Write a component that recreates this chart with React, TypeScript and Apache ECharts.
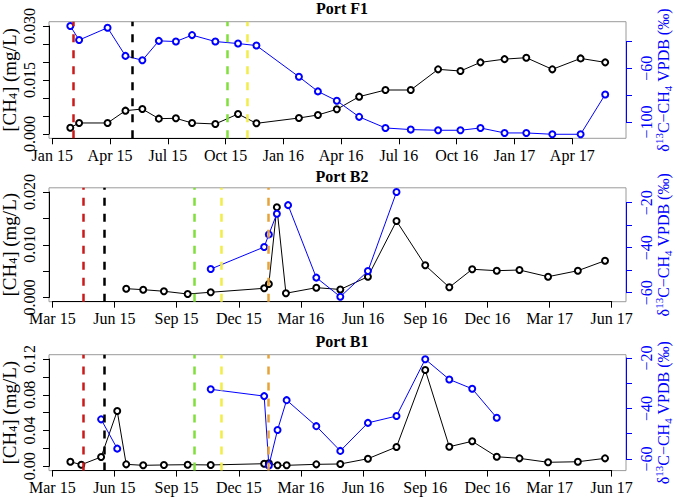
import React, { useEffect, useRef } from 'react';
import * as echarts from 'echarts';

const W = 677;
const H = 497;
const FONT = 'Liberation Serif, Times New Roman, serif';
const BLUE = '#0000FF';
const MONTHS = ['Jan', 'Feb', 'Mar', 'Apr', 'May', 'Jun', 'Jul', 'Aug', 'Sep', 'Oct', 'Nov', 'Dec'];

// ---------- Port F1 ----------
const f1Dates = ['2015-01-30', '2015-02-12', '2015-03-28', '2015-04-25', '2015-05-22', '2015-06-17', '2015-07-14', '2015-08-09', '2015-09-15', '2015-10-21', '2015-11-19', '2016-01-26', '2016-02-24', '2016-03-25', '2016-04-29', '2016-06-10', '2016-07-20', '2016-09-02', '2016-10-07', '2016-11-08', '2016-12-16', '2017-01-20', '2017-02-28', '2017-04-14', '2017-05-23'];
const f1CH4 = [0.00175, 0.00306, 0.00306, 0.00648, 0.00694, 0.00426, 0.00435, 0.00306, 0.00278, 0.00556, 0.00296, 0.00444, 0.00528, 0.00685, 0.01037, 0.01222, 0.01222, 0.01796, 0.0175, 0.0199, 0.0208, 0.0212, 0.01796, 0.021, 0.0199];
const f1D13Dates = f1Dates;
const f1D13 = [-28.4, -38.9, -29.7, -50.7, -54.0, -39.5, -40, -35.2, -40, -41.5, -43, -66.3, -77.2, -84.2, -96.2, -104.5, -105.7, -106.2, -106.2, -104.5, -108.2, -108.2, -109.2, -109.2, -79.5];
const f1Events = ['2015-02-04', '2015-05-06', '2015-10-03', '2015-11-04'];

// ---------- Port B2 ----------
const b2Dates = ['2015-06-18', '2015-07-13', '2015-08-13', '2015-09-17', '2015-10-21', '2016-01-08', '2016-01-15', '2016-01-27', '2016-02-09', '2016-03-24', '2016-04-28', '2016-06-08', '2016-07-20', '2016-09-01', '2016-10-06', '2016-11-09', '2016-12-15', '2017-01-18', '2017-02-27', '2017-04-12', '2017-05-22'];
const b2CH4 = [0.00167, 0.00148, 0.00118, 0.00066, 0.00099, 0.00174, 0.00256, 0.0171, 0.0008, 0.00186, 0.00152, 0.00394, 0.0145, 0.0061, 0.00193, 0.00535, 0.00508, 0.00521, 0.00394, 0.00508, 0.00698];
const b2D13Dates = ['2015-10-21', '2016-01-08', '2016-01-15', '2016-01-27', '2016-02-09', '2016-02-12', '2016-03-24', '2016-04-28', '2016-06-08', '2016-07-20'];
const b2D13 = [-49.5, -39.7, -34.1, -24.9, null, -21.1, -53.3, -61.8, -50.4, -15.3];
const b2Events = ['2015-04-15', '2015-05-17', '2015-09-26', '2015-11-06', '2016-01-14'];

// ---------- Port B1 ----------
const b1Dates = ['2015-03-28', '2015-04-13', '2015-05-12', '2015-06-05', '2015-06-18', '2015-07-13', '2015-08-13', '2015-09-17', '2015-10-21', '2016-01-08', '2016-01-15', '2016-01-28', '2016-02-10', '2016-03-24', '2016-04-28', '2016-06-08', '2016-07-20', '2016-09-01', '2016-10-06', '2016-11-09', '2016-12-15', '2017-01-18', '2017-02-27', '2017-04-12', '2017-05-22'];
const b1CH4 = [0.0051, 0.0018, 0.0104, 0.0618, 0.0022, 0.0011, 0.0015, 0.0018, 0.0015, 0.0029, 0.0034, 0.0011, 0.0011, 0.0022, 0.0026, 0.0085, 0.0216, 0.1077, 0.0219, 0.028, 0.0107, 0.0089, 0.0045, 0.0051, 0.0089];
const b1D13Dates = ['2015-05-12', '2015-06-05', '2015-06-18', '2015-10-21', '2016-01-08', '2016-01-15', '2016-01-28', '2016-02-10', '2016-03-24', '2016-04-28', '2016-06-08', '2016-07-20', '2016-09-01', '2016-10-06', '2016-11-09', '2016-12-15'];
const b1D13 = [-44.3, -55.9, null, -32.4, -35.1, -62.6, -48.5, -36.7, -47, -56.8, -45.7, -43, -20.5, -28.5, -32.2, -43.7];
const b1Events = b2Events;

const EVENT_COLORS = ['#CC1A1A', '#000000', '#7FE03A', '#F2EE45', '#E8A23A'];

// tick definitions
const xTicks = [0, 27, 3];
const f1LeftTicks = [0, 0.03, 0.005];
const f1LeftLabels = [0, 0.015, 0.03];
const f1RightTicks = [-100, -40, 20];
const f1RightLabels = [-100, -60];
const b2LeftTicks = [0, 0.02, 0.005];
const b2LeftLabels = [0, 0.01, 0.02];
const b2RightTicks = [-60, -20, 10];
const b2RightLabels = [-60, -40, -20];
const b1LeftTicks = [0, 0.12, 0.02];
const b1LeftLabels = [0, 0.04, 0.08, 0.12];
const b1RightTicks = [-60, -20, 10];
const b1RightLabels = [-60, -40, -20];

const PANELS = [
  {
    title: 'Port F1', titleY: 8.5, base: 0,
    box: { left: 49, right: 626, top: 21.7, bottom: 138.3 },
    xRange: [-0.17, 29.79],
    yL: [-0.0012, 0.0312], yLT: f1LeftTicks, yLLab: f1LeftLabels, yLDig: 3,
    yR: [-112.2, -25.2], yRT: f1RightTicks, yRLab: f1RightLabels,
    dates: f1Dates, ch4: f1CH4, dDates: f1D13Dates, d13: f1D13, events: f1Events,
  },
  {
    title: 'Port B2', titleY: 176, base: 2,
    box: { left: 49, right: 626, top: 187.8, bottom: 301.7 },
    xRange: [-0.16, 27.69],
    yL: [-0.0008, 0.0208], yLT: b2LeftTicks, yLLab: b2LeftLabels, yLDig: 3,
    yR: [-64.0, -13.4], yRT: b2RightTicks, yRLab: b2RightLabels,
    dates: b2Dates, ch4: b2CH4, dDates: b2D13Dates, d13: b2D13, events: b2Events,
  },
  {
    title: 'Port B1', titleY: 341.5, base: 2,
    box: { left: 49, right: 626, top: 354.7, bottom: 470.6 },
    xRange: [-0.16, 27.69],
    yL: [-0.0048, 0.1248], yLT: b1LeftTicks, yLLab: b1LeftLabels, yLDig: 2,
    yR: [-64.6, -18.7], yRT: b1RightTicks, yRLab: b1RightLabels,
    dates: b1Dates, ch4: b1CH4, dDates: b1D13Dates, d13: b1D13, events: b1Events,
  },
];

function toM(s: string, base: number): number {
  const [y, mo, d] = s.split('-').map(Number);
  const dim = new Date(Date.UTC(y, mo, 0)).getUTCDate();
  return (y - 2015) * 12 + (mo - 1) + (d - 1) / dim - base;
}

function monthLabel(v: number, base: number): string {
  const m = Math.round(v + base);
  const yr = 15 + Math.floor(m / 12);
  return `${MONTHS[((m % 12) + 12) % 12]} ${yr}`;
}

function has(list: number[], v: number) {
  return list.some((x) => Math.abs(x - v) < 1e-9);
}

const richLabel = (color: string) => ({ t: { fontFamily: FONT, fontSize: 16, color, lineHeight: 18 } });

function buildOption() {
  const grid: any[] = [];
  const xAxis: any[] = [];
  const yAxis: any[] = [];
  const series: any[] = [];
  const graphic: any[] = [];
  const GRID_FIX = { containLabel: false, outerBoundsMode: 'none' };

  PANELS.forEach((p) => {
    const b = p.box;
    const bw = b.right - b.left;
    const bh = b.bottom - b.top;
    const xPx = (v: number) => b.left + ((v - p.xRange[0]) / (p.xRange[1] - p.xRange[0])) * bw;
    const yPx = (v: number, r: number[]) => b.top + ((r[1] - v) / (r[1] - r[0])) * bh;

    // ---- data grid (the box) ----
    const gD = grid.length;
    grid.push({ ...GRID_FIX, left: b.left, top: b.top, width: bw, height: bh, show: true, borderColor: '#9a9a9a', borderWidth: 1, backgroundColor: 'transparent' });
    const xD = xAxis.length;
    xAxis.push({ gridIndex: gD, type: 'value', min: p.xRange[0], max: p.xRange[1], show: false });
    const yDL = yAxis.length;
    yAxis.push({
      gridIndex: gD, type: 'value', min: p.yL[0], max: p.yL[1], position: 'left',
      axisLine: { show: false }, axisTick: { show: false }, axisLabel: { show: false }, splitLine: { show: false },
      name: '{a|[CH}{s|4}{a|] (mg/L)}', nameLocation: 'middle', nameGap: 30, nameRotate: 90,
      nameTextStyle: {
        color: '#000', fontFamily: FONT, fontSize: 19,
        rich: {
          a: { fontFamily: FONT, fontSize: 19, color: '#000', lineHeight: 20 },
          s: { fontFamily: FONT, fontSize: 12, color: '#000', lineHeight: 12, verticalAlign: 'bottom' },
        },
      },
    });
    const yDR = yAxis.length;
    yAxis.push({
      gridIndex: gD, type: 'value', min: p.yR[0], max: p.yR[1], position: 'right',
      axisLine: { show: false }, axisTick: { show: false }, axisLabel: { show: false }, splitLine: { show: false },
      name: '{a|δ}{p|13}{a|C−CH}{s|4}{a| VPDB (‰)}', nameLocation: 'middle', nameGap: 27, nameRotate: 90,
      nameTextStyle: {
        color: BLUE, fontFamily: FONT, fontSize: 16,
        rich: {
          a: { fontFamily: FONT, fontSize: 16, color: BLUE, lineHeight: 20 },
          s: { fontFamily: FONT, fontSize: 11, color: BLUE, lineHeight: 11, verticalAlign: 'bottom' },
          p: { fontFamily: FONT, fontSize: 11, color: BLUE, lineHeight: 11, verticalAlign: 'top' },
        },
      },
    });

    // ---- grid for left + bottom axes (R style, spanning tick range) ----
    const gB = grid.length;
    const bLeft = xPx(xTicks[0]);
    const bRight = xPx(xTicks[1]);
    const bTop = yPx(p.yLT[1], p.yL);
    const bBot = yPx(p.yLT[0], p.yL);
    grid.push({ ...GRID_FIX, left: bLeft, top: bTop, width: bRight - bLeft, height: bBot - bTop });
    const base = p.base;
    xAxis.push({
      gridIndex: gB, type: 'value', min: xTicks[0], max: xTicks[1], interval: xTicks[2], position: 'bottom',
      offset: b.bottom - bBot,
      axisLine: { onZero: false, lineStyle: { color: '#000', width: 1 } },
      axisTick: { length: 6, lineStyle: { color: '#000', width: 1 } },
      axisLabel: {
        fontFamily: FONT, fontSize: 16, color: '#000', margin: 8,
        formatter: (v: number) => `{t|${monthLabel(v, base)}}`, rich: richLabel('#000'),
      },
      splitLine: { show: false },
    });
    const lab = p.yLLab;
    const dig = p.yLDig;
    yAxis.push({
      gridIndex: gB, type: 'value', min: p.yLT[0], max: p.yLT[1], interval: p.yLT[2], position: 'left',
      offset: bLeft - b.left,
      axisLine: { onZero: false, lineStyle: { color: '#000', width: 1 } },
      axisTick: { length: 6, lineStyle: { color: '#000', width: 1 } },
      axisLabel: {
        rotate: 90, margin: 11, fontFamily: FONT, fontSize: 16, color: '#000',
        formatter: (v: number) => (has(lab, v) ? `{t|${v.toFixed(dig)}}` : ''), rich: richLabel('#000'),
      },
      splitLine: { show: false },
    });

    // ---- grid for the right (blue) axis ----
    const gC = grid.length;
    const cTop = yPx(p.yRT[1], p.yR);
    const cBot = yPx(p.yRT[0], p.yR);
    grid.push({ ...GRID_FIX, left: b.left, top: cTop, width: bw, height: cBot - cTop });
    xAxis.push({ gridIndex: gC, type: 'value', min: 0, max: 1, show: false });
    const rlab = p.yRLab;
    yAxis.push({
      gridIndex: gC, type: 'value', min: p.yRT[0], max: p.yRT[1], interval: p.yRT[2], position: 'right',
      axisLine: { onZero: false, lineStyle: { color: BLUE, width: 1 } },
      axisTick: { length: 6, lineStyle: { color: BLUE, width: 1 } },
      axisLabel: {
        rotate: 90, margin: 11, fontFamily: FONT, fontSize: 16, color: BLUE,
        formatter: (v: number) => (has(rlab, v) ? `{t|${String(v).replace('-', '−')}}` : ''), rich: richLabel(BLUE),
      },
      splitLine: { show: false },
    });

    // ---- event lines ----
    series.push({
      type: 'line', xAxisIndex: xD, yAxisIndex: yDL, data: [], z: 1, silent: true,
      markLine: {
        silent: true, symbol: ['none', 'none'], label: { show: false }, animation: false,
        data: p.events.map((d, i) => ({ xAxis: toM(d, base), lineStyle: { color: EVENT_COLORS[i], type: [8, 8], width: 2.5 } })),
      },
    });

    // ---- CH4 (black) ----
    series.push({
      type: 'line', xAxisIndex: xD, yAxisIndex: yDL, z: 3,
      data: p.dates.map((d, i) => [toM(d, base), p.ch4[i]]),
      symbol: 'emptyCircle', symbolSize: 6,
      lineStyle: { color: '#000', width: 1 },
      itemStyle: { color: '#000', borderWidth: 0.9 },
    });
    // ---- d13C (blue) ----
    series.push({
      type: 'line', xAxisIndex: xD, yAxisIndex: yDR, z: 4, connectNulls: false,
      data: p.dDates.map((d, i) => [toM(d, base), p.d13[i] == null ? '-' : p.d13[i]]),
      symbol: 'emptyCircle', symbolSize: 6,
      lineStyle: { color: BLUE, width: 1 },
      itemStyle: { color: BLUE, borderWidth: 0.9 },
    });

    // ---- title ----
    graphic.push({
      type: 'text', x: 342, y: p.titleY,
      style: { text: p.title, fontFamily: FONT, fontSize: 16, fontWeight: 'bold', fill: '#000', textAlign: 'center', textVerticalAlign: 'middle' },
    });
  });

  return {
    animation: false,
    backgroundColor: '#fff',
    textStyle: { fontFamily: FONT },
    grid, xAxis, yAxis, series, graphic,
  };
}

export default function App() {
  const ref = useRef<HTMLDivElement>(null);
  useEffect(() => {
    if (!ref.current) return;
    const chart = echarts.init(ref.current, undefined, { renderer: 'svg' });
    chart.setOption(buildOption() as any);
    return () => chart.dispose();
  }, []);
  return <div ref={ref} style={{ position: 'fixed', left: 0, top: 0, width: W, height: H, background: '#fff' }} />;
}
